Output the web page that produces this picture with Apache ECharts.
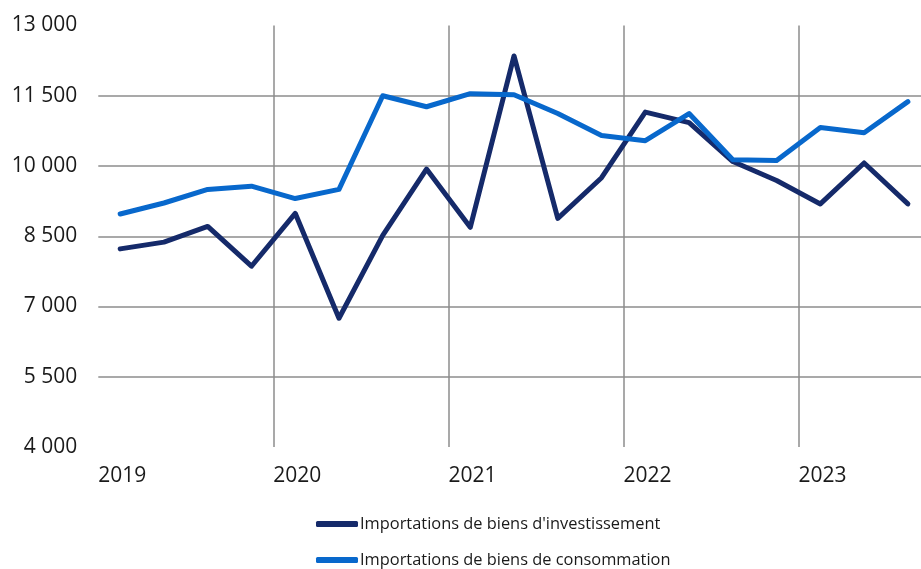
<!DOCTYPE html>
<html>
<head>
<meta charset="utf-8">
<script src="https://cdn.jsdelivr.net/npm/echarts@6/dist/echarts.min.js"></script>
<style>
html,body{margin:0;padding:0;background:#fff;}
#chart{width:921px;height:569px;}
</style>
</head>
<body>
<div id="chart"></div>
<script>
// Quarters (2019 T1 .. 2023 T3)
var quarters = ['2019T1','2019T2','2019T3','2019T4','2020T1','2020T2','2020T3','2020T4',
  '2021T1','2021T2','2021T3','2021T4','2022T1','2022T2','2022T3','2022T4','2023T1','2023T2','2023T3'];
var yearLabels = ['2019','2020','2021','2022','2023'];
var seriesNames = ["Importations de biens d'investissement", "Importations de biens de consommation"];
var investissement = [8230, 8375, 8710, 7860, 8990, 6750, 8520, 9935, 8690, 12350, 8880, 9750,
  11150, 10925, 10095, 9690, 9190, 10065, 9190];
var consommation = [8975, 9210, 9500, 9570, 9305, 9500, 11500, 11265, 11545, 11520, 11120, 10650,
  10540, 11120, 10135, 10115, 10820, 10710, 11375];
var yTicks = [4000, 5500, 7000, 8500, 10000, 11500, 13000];

function toPairs(arr){ return arr.map(function(v,i){ return [i + 0.5, v]; }); }
function fmt(v){ return String(v).replace(/\B(?=(\d{3})+(?!\d))/g, ' '); }

var grid = '#8c8c8c';
var font = '"Open Sans", "Noto Sans", sans-serif';
var chart = echarts.init(document.getElementById('chart'), null, {renderer:'canvas'});
chart.setOption({
  animation: false,
  backgroundColor: '#ffffff',
  grid: {left: 98.3, right: 0, top: 25.5, bottom: 122},
  xAxis: {
    type: 'value', min: 0, max: 18.8, interval: 4,
    axisLine: {show: false}, axisTick: {show: false},
    axisLabel: {
      margin: 19, align: 'left', fontFamily: font, fontSize: 21, color: '#1a1a1a',
      showMaxLabel: false,
      formatter: function(v){ var k = Math.round(v/4); return yearLabels[k] || ''; }
    },
    splitLine: {show: true, lineStyle: {color: ['rgba(0,0,0,0)', grid, grid, grid, grid], width: 1.5}}
  },
  yAxis: {
    type: 'value', min: yTicks[0], max: yTicks[yTicks.length-1], interval: 1500,
    axisLine: {show: false}, axisTick: {show: false},
    axisLabel: {margin: 21, fontFamily: font, fontSize: 21, color: '#1a1a1a', formatter: fmt},
    splitLine: {show: true, lineStyle: {color: ['rgba(0,0,0,0)', grid, grid, grid, grid, grid, 'rgba(0,0,0,0)'], width: 1.5}}
  },
  legend: {
    orient: 'vertical', left: 316, top: 516, height: 53, padding: 0,
    icon: 'roundRect', itemWidth: 42, itemHeight: 6, itemGap: 20,
    textStyle: {fontFamily: font, fontSize: 16.4, lineHeight: 16, color: '#1a1a1a', padding: [0,0,0,-3]},
    data: seriesNames
  },
  series: [
    {name: seriesNames[0], type: 'line', data: toPairs(investissement), showSymbol: false,
     itemStyle: {color: '#152a6a'},
     lineStyle: {color: '#152a6a', width: 5, cap: 'round', join: 'round'}},
    {name: seriesNames[1], type: 'line', data: toPairs(consommation), showSymbol: false,
     itemStyle: {color: '#0868cc'},
     lineStyle: {color: '#0868cc', width: 5, cap: 'round', join: 'round'}}
  ]
});
</script>
</body>
</html>
